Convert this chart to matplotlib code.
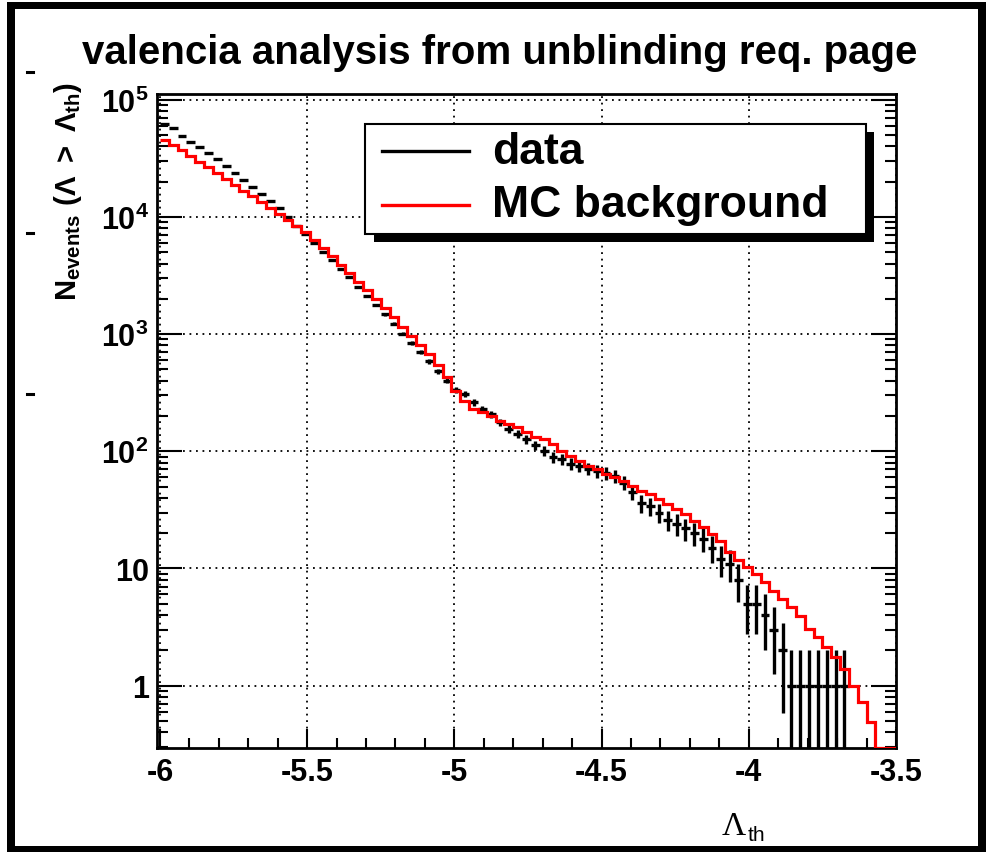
"""Cumulative N(Lambda > Lambda_th): data vs MC background, ROOT-style log plot."""

import numpy as np
import matplotlib

matplotlib.use("Agg")

import matplotlib.pyplot as plt  # noqa: E402
from matplotlib.lines import Line2D  # noqa: E402
from matplotlib.patches import Rectangle  # noqa: E402
from matplotlib.ticker import (FixedFormatter, FixedLocator, LogLocator,  # noqa: E402
                               MultipleLocator, NullFormatter)

W, H = 986, 853

plt.rcParams["font.family"] = ["Liberation Sans", "DejaVu Sans"]
plt.rcParams["font.weight"] = "bold"
plt.rcParams["mathtext.fontset"] = "custom"
plt.rcParams["mathtext.rm"] = "Liberation Sans"
plt.rcParams["mathtext.bf"] = "Liberation Sans:bold"
plt.rcParams["mathtext.it"] = "Liberation Sans:italic"
plt.rcParams["axes.unicode_minus"] = False

# --- data ---------------------------------------------------------------
BIN_LO = -6.0
BIN_W = 0.03

data_counts = [
    62100, 57000, 48750, 43850, 39700, 34900, 31200, 27350, 23700, 20650,
    17900, 15650, 13600, 11900, 10050, 8300, 7100, 6000, 5050, 4300,
    3600, 3050, 2520, 2130, 1770, 1480, 1230, 1010, 840, 700,
    585, 480, 400, 335, 308, 262, 230, 208, 177, 155,
    141, 127, 113, 101, 89, 86, 78, 75, 71, 68,
    65, 61, 54, 45, 36, 34, 30, 26, 24, 22,
    20, 18, 15, 12, 11, 8, 5, 5, 4, 3,
    2, 1, 1, 1, 1, 1, 1, 1, 0, 0,
    0, 0, 0, 0,
]

mc_counts = [
    45300, 41050, 37200, 33100, 29400, 26650, 23700, 21050, 18730, 16650,
    15080, 13400, 11900, 10590, 9420, 8360, 7430, 6350, 5430, 4640,
    3890, 3325, 2785, 2380, 1990, 1670, 1400, 1150, 964, 807,
    676, 545, 431, 329, 270, 230, 215, 201, 183, 171,
    160, 145, 132, 127, 115, 101, 91.6, 83.1, 75.3, 70.6,
    64.0, 60.0, 56.1, 50.9, 46.1, 43.2, 39.2, 35.5, 32.2, 29.2,
    25.6, 22.5, 19.7, 17.3, 13.7, 11.7, 10.2, 8.98, 7.62, 6.47,
    5.50, 4.67, 3.96, 3.05, 2.59, 2.13, 1.76, 1.39, 1.0, 0.73,
    0.49, 0, 0, 0,
]

x_tick_vals = [-6, -5.5, -5, -4.5, -4, -3.5]
x_tick_labels = ["-6", "-5.5", "-5", "-4.5", "-4", "-3.5"]
y_tick_vals = [1, 10, 1e2, 1e3, 1e4, 1e5]
y_tick_labels = ["1", "10", r"$\mathbf{10^{2}}$", r"$\mathbf{10^{3}}$",
                 r"$\mathbf{10^{4}}$", r"$\mathbf{10^{5}}$"]

YMIN, YMAX = 0.292, 1.12e5


def fx(px):
    return px / W


def fy(py):
    return 1 - py / H


def rect_px(fig, x0, y0, x1, y1, **kw):
    fig.patches.append(Rectangle((fx(x0), fy(y1)), fx(x1) - fx(x0), fy(y0) - fy(y1),
                                 transform=fig.transFigure, figure=fig, **kw))


fig = plt.figure(figsize=(W / 100, H / 100), dpi=100)
fig.patch.set_facecolor("white")

# outer black frame of the canvas
rect_px(fig, 7, 3, 986, 10, color="black", lw=0)
rect_px(fig, 7, 3, 15, 853, color="black", lw=0)
rect_px(fig, 7, 847, 986, 853, color="black", lw=0)
rect_px(fig, 978, 3, 986, 853, color="black", lw=0)
for yy in (73, 234, 395):
    fig.lines.append(Line2D([fx(27), fx(33)], [fy(yy), fy(yy)], color="black",
                            lw=2.2, transform=fig.transFigure))

ax = fig.add_axes([fx(157), fy(749.3), fx(896) - fx(157), fy(95) - fy(749.3)])
ax.set_yscale("log")
ax.set_xlim(-6.01, -3.5)
ax.set_ylim(YMIN, YMAX)

data = np.array(data_counts, dtype=float)
mc = np.array(mc_counts, dtype=float)
edges = BIN_LO + BIN_W * np.arange(len(mc) + 1)
centers = 0.5 * (edges[:-1] + edges[1:])

# data: error bars only (x = bin width, y = sqrt(N))
sel = data > 0
ax.errorbar(centers[sel], data[sel], xerr=BIN_W / 2, yerr=np.sqrt(data[sel]),
            fmt="none", ecolor="black", elinewidth=2.4, capsize=0, zorder=3)

# MC background: step outline, empty bins drawn along the bottom
ax.stairs(np.where(mc > 0, mc, YMIN), edges, baseline=None, color="#ff0000",
          lw=2.3, zorder=4)

# axes cosmetics
ax.xaxis.set_major_locator(FixedLocator(x_tick_vals))
ax.xaxis.set_major_formatter(FixedFormatter(x_tick_labels))
ax.xaxis.set_minor_locator(MultipleLocator(0.1))
ax.yaxis.set_major_locator(FixedLocator(y_tick_vals))
ax.yaxis.set_major_formatter(FixedFormatter(y_tick_labels))
ax.yaxis.set_minor_locator(LogLocator(base=10, subs=np.arange(2, 10), numticks=30))
ax.yaxis.set_minor_formatter(NullFormatter())

ax.tick_params(which="both", direction="in", top=False, right=True,
               width=1.5, labelsize=22, pad=6)
ax.tick_params(axis="x", which="major", length=14)
ax.tick_params(axis="x", which="minor", length=7)
ax.tick_params(axis="y", which="major", length=18)
ax.tick_params(axis="y", which="minor", length=8)
for lab in ax.get_xticklabels() + ax.get_yticklabels():
    lab.set_fontweight("bold")

ax.grid(which="major", color="black", linestyle=(0, (1, 2.6)), lw=1.3)
for sp in ax.spines.values():
    sp.set_linewidth(2)

# legend with ROOT-like shadow
rect_px(fig, 374, 133, 874, 243, color="black", lw=0, zorder=5)
rect_px(fig, 365, 125, 866, 235, facecolor="white", edgecolor="black", lw=1.5, zorder=6)
fig.lines.append(Line2D([fx(382), fx(469)], [fy(152), fy(152)], color="black",
                        lw=2.4, transform=fig.transFigure, zorder=7))
fig.lines.append(Line2D([fx(382), fx(469)], [fy(206), fy(206)], color="#ff0000",
                        lw=2.4, transform=fig.transFigure, zorder=7))
fig.text(fx(492), fy(152), "data", fontsize=32, fontweight="bold",
         va="center", ha="left", zorder=8)
fig.text(fx(492), fy(206), "MC background", fontsize=32, fontweight="bold",
         va="center", ha="left", zorder=8)

# titles
fig.text(fx(500), fy(53), "valencia analysis from unblinding req. page",
         fontsize=29, fontweight="bold", ha="center", va="center")
fig.text(fx(68), fy(82), r"$\mathbf{N}_{\mathbf{events}}\ \mathbf{(}\Lambda\ \mathbf{>}\ \Lambda_{\mathbf{th}}\mathbf{)}$",
         fontsize=21, fontweight="normal", rotation=90, ha="center", va="top")
# x title: thin serif Lambda with a small sans "th" subscript
fig.text(fx(734), fy(835), "\u039b", fontsize=24, fontweight="normal",
         family="Liberation Serif", ha="center", va="baseline")
fig.text(fx(748), fy(841), "th", fontsize=15, fontweight="normal",
         family="Liberation Sans", ha="left", va="baseline")

fig.savefig("out.png", dpi=100, facecolor="white")
